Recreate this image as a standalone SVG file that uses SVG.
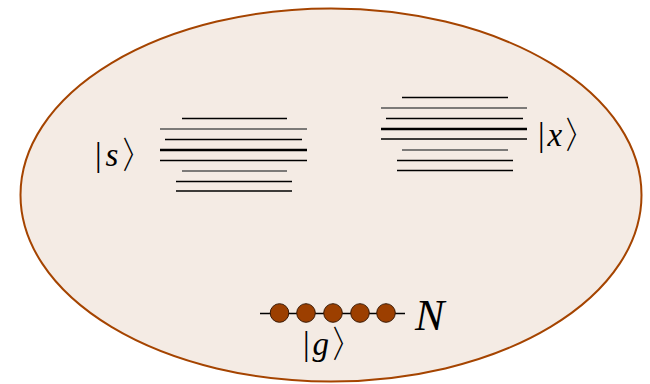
<svg xmlns="http://www.w3.org/2000/svg" width="650" height="384" viewBox="0 0 650 384">
<style>
.lv{stroke:#000;stroke-width:1.3;fill:none}
.lg{stroke:#555;stroke-width:1.6;fill:none}
.th{stroke:#000;stroke-width:2.4;fill:none}
.atom{fill:#9c3f00;stroke:#3a1a05;stroke-width:1}
.lbl{font-family:"Liberation Serif",serif;font-size:33px;fill:#000}
.it{font-style:italic}
.br{font-size:38px}
</style>
<g id="cloud">
<ellipse cx="331" cy="195" rx="310.5" ry="186.5" fill="#f4ebe4" stroke="#a54400" stroke-width="2"/>
</g>
<g id="s-levels">
<line class="lv" x1="182" y1="118.5" x2="287" y2="118.5"/>
<line class="lg" x1="160" y1="129" x2="307" y2="129"/>
<line class="lv" x1="165" y1="139.5" x2="302" y2="139.5"/>
<line class="th" x1="160" y1="150" x2="307" y2="150"/>
<line class="lv" x1="160" y1="160.5" x2="307" y2="160.5"/>
<line class="lg" x1="182" y1="171" x2="287" y2="171"/>
<line class="lv" x1="176" y1="181.5" x2="292" y2="181.5"/>
<line class="lv" x1="176" y1="191" x2="292" y2="191"/>
<text class="lbl" x="95" y="166">|<tspan class="it" dx="4">s</tspan><tspan class="br" dx="1" dy="2">〉</tspan></text>
</g>
<g id="x-levels">
<line class="lv" x1="402" y1="97.5" x2="508" y2="97.5"/>
<line class="lg" x1="381" y1="108" x2="527" y2="108"/>
<line class="lv" x1="386" y1="118.5" x2="523" y2="118.5"/>
<line class="th" x1="381" y1="129" x2="527" y2="129"/>
<line class="lv" x1="381" y1="139" x2="527" y2="139"/>
<line class="lg" x1="402" y1="150" x2="508" y2="150"/>
<line class="lv" x1="397" y1="160.5" x2="513" y2="160.5"/>
<line class="lv" x1="397" y1="170.5" x2="513" y2="170.5"/>
<text class="lbl" x="538" y="146">|<tspan class="it" dx="3">x</tspan><tspan class="br" dy="2">〉</tspan></text>
</g>
<g id="g-atoms">
<line x1="260" y1="313.5" x2="405" y2="313.5" stroke="#000" stroke-width="1.3"/>
<circle class="atom" cx="279.5" cy="313" r="9.3"/>
<circle class="atom" cx="306" cy="313" r="9.3"/>
<circle class="atom" cx="333" cy="313" r="9.3"/>
<circle class="atom" cx="360" cy="313" r="9.3"/>
<circle class="atom" cx="386" cy="313" r="9.3"/>
<text class="lbl" x="303" y="355">|<tspan class="it" dx="3">g</tspan><tspan class="br" dy="2">〉</tspan></text>
<text class="lbl it" x="415" y="329.5" style="font-size:44px">N</text>
</g>
</svg>
